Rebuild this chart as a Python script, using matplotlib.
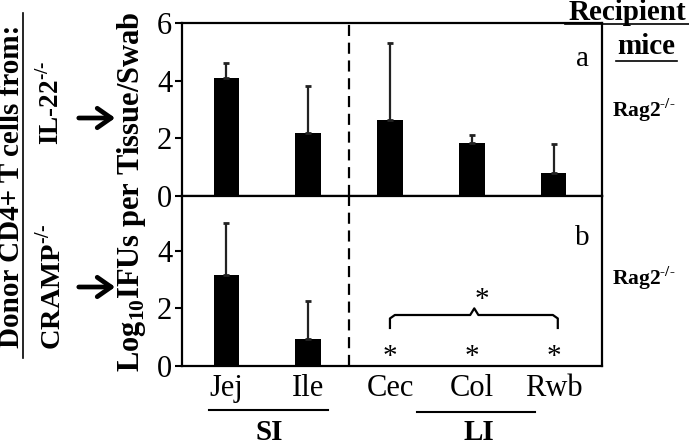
import numpy as np
import matplotlib
matplotlib.use('Agg')
import matplotlib.pyplot as plt
from matplotlib.lines import Line2D
from matplotlib.patches import FancyArrowPatch

plt.rcParams['font.family'] = 'Liberation Serif'
plt.rcParams['mathtext.fontset'] = 'custom'
plt.rcParams['mathtext.rm'] = 'Liberation Serif:bold'
plt.rcParams['mathtext.bf'] = 'Liberation Serif:bold'

sites = ['Jej', 'Ile', 'Cec', 'Col', 'Rwb']
il22_mean = [4.1, 2.2, 2.65, 1.85, 0.8]
il22_err = [0.5, 1.6, 2.65, 0.25, 1.0]
cramp_mean = [3.15, 0.95, 0, 0, 0]
cramp_err = [1.8, 1.3, 0, 0, 0]

W, H = 689, 445
fig = plt.figure(figsize=(W / 100, H / 100), dpi=100)

def fx(px):
    return px / W

def fy(py):
    return 1 - py / H

x = np.arange(len(sites))
left, right = 182, 602
ax1 = fig.add_axes([fx(left), fy(196), fx(right - left), fy(23) - fy(196)])
ax2 = fig.add_axes([fx(left), fy(366), fx(right - left), fy(196) - fy(366)])

for ax, m, e in [(ax1, il22_mean, il22_err), (ax2, cramp_mean, cramp_err)]:
    ax.bar(x, m, width=0.31, color='black', zorder=2)
    idx = [i for i in range(len(m)) if e[i] > 0]
    ax.errorbar(x[idx], np.array(m)[idx], yerr=[np.zeros(len(idx)), np.array(e)[idx]],
                fmt='none', ecolor='#222222', elinewidth=1.6, capsize=2.5, capthick=2, zorder=3)
    ax.axvline(1.5, color='black', lw=1.6, dashes=(5, 3), zorder=1)
    ax.set_xlim(-0.54, 4.59)
    for s in ax.spines.values():
        s.set_linewidth(1.6)
    ax.tick_params(axis='y', direction='out', length=5, width=1.5, labelsize=22, pad=2)
    ax.tick_params(axis='x', length=0)

ax1.set_ylim(0, 6)
ax1.set_yticks([0, 2, 4, 6])
ax1.set_xticks([])
ax2.set_ylim(0, 5.9)
ax2.set_yticks([0, 2, 4])
ax2.set_xticks(x)
ax2.set_xticklabels(sites, fontsize=22)
ax2.tick_params(axis='x', pad=6)

ax1.text(4.35, 4.75, 'a', fontsize=21, ha='center', va='center')
ax2.text(4.35, 4.45, 'b', fontsize=21, ha='center', va='center')

# asterisks and bracket for zero bars
for i in [2, 3, 4]:
    ax2.text(x[i], 0.3, '*', fontsize=21, ha='center', va='center')
ax2.plot([2.0, 2.0, 2.06, 2.98, 3.03, 3.08, 3.99, 4.05, 4.05],
         [1.32, 1.65, 1.77, 1.77, 2.0, 1.77, 1.77, 1.65, 1.32], color='black', lw=1.6)
ax2.text(3.12, 2.3, '*', fontsize=21, ha='center', va='center')

# y label
fig.text(fx(132), fy(192), r'Log$_{10}$IFUs per Tissue/Swab', rotation=90,
         fontsize=22, fontweight='bold', ha='center', va='center')

# donor labels
fig.text(fx(12), fy(186), 'Donor CD4+ T cells from:', rotation=90, fontsize=21,
         fontweight='bold', ha='center', va='center')
fig.add_artist(Line2D([fx(23), fx(23)], [fy(13), fy(358)], color='black', lw=1.2))
fig.text(fx(51), fy(103), r'IL-22$^{\text{-/-}}$', rotation=90, fontsize=19.5,
         fontweight='bold', ha='center', va='center')
fig.text(fx(51), fy(287), r'CRAMP$^{\text{-/-}}$', rotation=90, fontsize=20.5,
         fontweight='bold', ha='center', va='center')
for yy in [118, 287]:
    fig.add_artist(FancyArrowPatch((fx(76), fy(yy)), (fx(118), fy(yy)),
                   transform=fig.transFigure, arrowstyle='->,head_length=0.5,head_width=0.35',
                   lw=3.4, color='black', mutation_scale=20))

# recipient labels
fig.text(fx(627), fy(12), 'Recipient', fontsize=21, fontweight='bold', ha='center', va='center')
fig.add_artist(Line2D([fx(565), fx(689)], [fy(24), fy(24)], color='black', lw=1.2))
fig.text(fx(646), fy(46), 'mice', fontsize=21, fontweight='bold', ha='center', va='center')
fig.add_artist(Line2D([fx(616), fx(677)], [fy(61), fy(61)], color='black', lw=1.2))
for yy in [110, 278]:
    fig.text(fx(612), fy(yy), r'Rag2$^{\text{-/-}}$', fontsize=15.5, fontweight='bold',
             ha='left', va='center')

# SI / LI groups
fig.add_artist(Line2D([fx(209), fx(328)], [fy(410), fy(410)], color='black', lw=1.5))
fig.add_artist(Line2D([fx(417), fx(535)], [fy(412), fy(412)], color='black', lw=1.5))
fig.text(fx(269), fy(432), 'SI', fontsize=21, fontweight='bold', ha='center', va='center')
fig.text(fx(479), fy(432), 'LI', fontsize=21, fontweight='bold', ha='center', va='center')

fig.savefig('out.png', dpi=100)
